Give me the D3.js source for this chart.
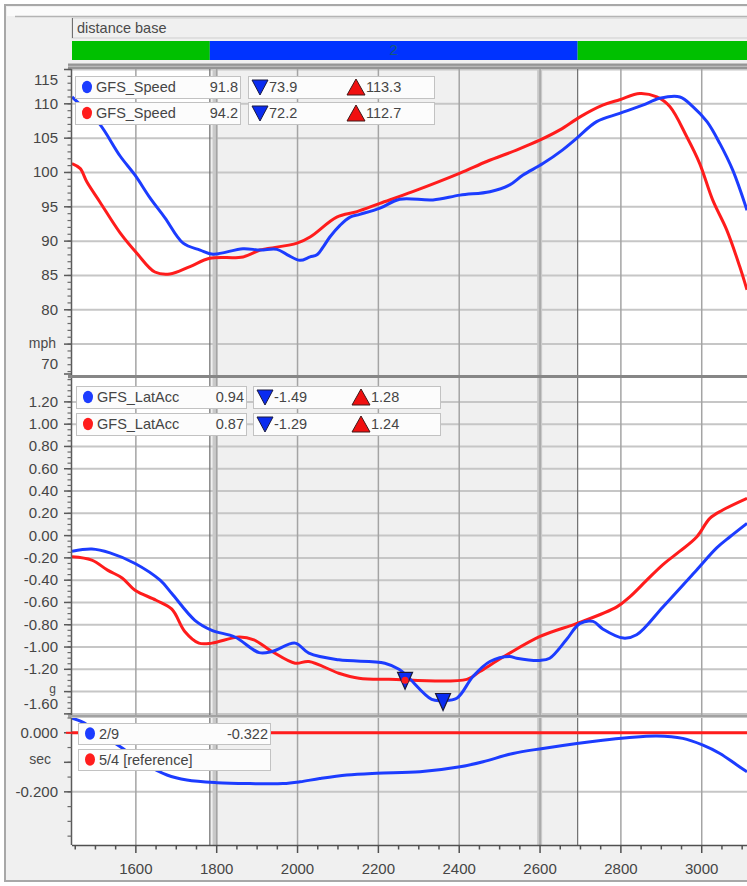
<!DOCTYPE html>
<html><head><meta charset="utf-8">
<script src="https://cdn.jsdelivr.net/npm/d3@7/dist/d3.min.js"></script>
<style>body{margin:0;background:#fff;}svg{display:block;font-family:"Liberation Sans",Arial,sans-serif;}</style>
</head><body><svg id="c" width="747" height="886"></svg>
<script>
// ---------- data ----------
const xDomain = [1442, 3112];
const xTicks = [1600, 1800, 2000, 2200, 2400, 2600, 2800, 3000];
const segNames = ["1", "2", "3"];
const segStarts = [1442, 1783, 2693];
const segEnds = [1783, 2693, 3112];
const currentSegment = "2";
const refSplits = [1796, 2599];

const speedTicks = [115, 110, 105, 100, 95, 90, 85, 80, 75, 70];
const speedUnit = "mph", speedUnitAt = 75;
const latTicks = [1.2, 1.0, 0.8, 0.6, 0.4, 0.2, 0.0, -0.2, -0.4, -0.6, -0.8, -1.0, -1.2, -1.4, -1.6];
const latUnit = "g", latUnitAt = -1.4;
const timeTicks = [0, -0.1, -0.2];
const timeGrid = [0, -0.2];
const timeUnit = "sec", timeUnitAt = -0.1;

const speedCur = [[1442,111.0],[1474,109.2],[1511,107.0],[1561,102.4],[1598,99.6],[1635,96.3],[1672,93.4],[1717,89.7],[1759,88.7],[1791,88.1],[1865,88.9],[1907,88.7],[1949,88.8],[1975,88.0],[2006,87.2],[2031,87.7],[2048,88.0],[2064,89.2],[2080,90.6],[2105,92.3],[2130,93.5],[2154,93.9],[2204,94.8],[2253,96.1],[2335,96.0],[2402,96.7],[2476,97.2],[2525,98.2],[2557,99.6],[2607,101.3],[2656,103.3],[2691,105.0],[2740,107.4],[2797,108.6],[2854,109.8],[2896,110.8],[2946,111.0],[2978,109.6],[3013,107.4],[3045,104.2],[3077,100.3],[3112,94.5]];
const speedRef = [[1442,101.3],[1462,100.6],[1479,98.6],[1511,95.7],[1561,91.2],[1603,88.2],[1647,85.5],[1684,85.2],[1734,86.3],[1783,87.5],[1865,87.7],[1907,88.7],[1924,88.9],[1999,89.7],[2031,90.6],[2097,93.5],[2147,94.3],[2204,95.5],[2285,97.2],[2402,99.9],[2468,101.6],[2543,103.3],[2599,104.7],[2649,106.2],[2699,108.1],[2755,109.8],[2797,110.6],[2847,111.5],[2889,111.0],[2921,109.6],[2963,105.2],[2995,101.3],[3027,96.0],[3062,91.6],[3094,86.3],[3112,82.9]];

const latCur = [[1442,-0.14],[1491,-0.12],[1536,-0.155],[1598,-0.25],[1660,-0.40],[1689,-0.52],[1746,-0.76],[1788,-0.85],[1845,-0.91],[1905,-1.05],[1937,-1.04],[1994,-0.965],[2028,-1.055],[2102,-1.115],[2216,-1.145],[2251,-1.2],[2271,-1.26],[2332,-1.47],[2360,-1.48],[2394,-1.46],[2434,-1.265],[2476,-1.13],[2525,-1.085],[2542,-1.10],[2600,-1.12],[2624,-1.10],[2665,-0.935],[2698,-0.79],[2731,-0.77],[2756,-0.84],[2806,-0.92],[2839,-0.89],[2904,-0.64],[2987,-0.31],[3037,-0.11],[3070,-0.01],[3112,0.11]];
const latRef = [[1442,-0.19],[1491,-0.22],[1530,-0.31],[1566,-0.38],[1598,-0.49],[1650,-0.58],[1689,-0.66],[1721,-0.86],[1756,-0.965],[1788,-0.965],[1855,-0.91],[1892,-0.935],[1937,-1.04],[1994,-1.145],[2028,-1.13],[2102,-1.235],[2152,-1.28],[2226,-1.29],[2419,-1.29],[2451,-1.22],[2518,-1.07],[2600,-0.905],[2674,-0.81],[2698,-0.78],[2790,-0.64],[2822,-0.55],[2864,-0.40],[2904,-0.26],[2946,-0.14],[2988,-0.01],[3020,0.155],[3052,0.23],[3112,0.335]];
const latMinMarks = [[2266,-1.29],[2360,-1.48]];
const latMinMarkHasDot = [true, false];

const timeCur = [[1442,0.049],[1467,0.037],[1511,-0.002],[1568,-0.053],[1622,-0.105],[1677,-0.143],[1726,-0.160],[1801,-0.169],[1882,-0.172],[1964,-0.172],[2006,-0.166],[2055,-0.155],[2122,-0.143],[2196,-0.137],[2303,-0.132],[2402,-0.115],[2459,-0.098],[2533,-0.070],[2607,-0.053],[2691,-0.036],[2755,-0.025],[2815,-0.017],[2889,-0.011],[2953,-0.019],[3003,-0.042],[3045,-0.070],[3087,-0.109],[3112,-0.132]];
const timeRef = [[1442,0],[3112,0]];

const speedLegNames = ["GFS_Speed", "GFS_Speed"];
const speedLegVals = ["91.8", "94.2"];
const speedLegMins = ["73.9", "72.2"];
const speedLegMaxs = ["113.3", "112.7"];
const latLegNames = ["GFS_LatAcc", "GFS_LatAcc"];
const latLegVals = ["0.94", "0.87"];
const latLegMins = ["-1.49", "-1.29"];
const latLegMaxs = ["1.28", "1.24"];
const timeLegNames = ["2/9", "5/4 [reference]"];
const timeLegVals = ["-0.322", ""];

// ---------- drawing ----------
const BLUE = "#1c3cff", RED = "#ff1c1c";
const svg = d3.select("#c");
const L = 72, R = 747;
const x = d3.scaleLinear().domain(xDomain).range([L, R]);

svg.append("rect").attr("width", 747).attr("height", 886).attr("fill", "#fff");
svg.append("rect").attr("x", 5).attr("y", 5).attr("width", 770).attr("height", 876)
  .attr("fill", "#f0f0f0").attr("stroke", "#a8a8a8").attr("stroke-width", 2);
svg.append("rect").attr("x", 7).attr("y", 7).attr("width", 760).attr("height", 9).attr("fill", "#fbfbfb");
svg.append("line").attr("x1", 15).attr("x2", 747).attr("y1", 16.5).attr("y2", 16.5)
  .attr("stroke", "#b4b4b4").attr("stroke-width", 1.5);

// header
svg.append("rect").attr("x", L).attr("y", 18).attr("width", 690).attr("height", 20)
  .attr("fill", "#f0f0f0").attr("stroke", "#cfcfcf");
svg.append("line").attr("x1", L + 0.5).attr("x2", L + 0.5).attr("y1", 18).attr("y2", 38).attr("stroke", "#707070");
svg.append("text").attr("x", 77).attr("y", 33).attr("font-size", 14.5).attr("fill", "#4a4a4a").text("distance base");

segNames.forEach((n, i) => {
  const x0 = x(Math.max(segStarts[i], xDomain[0])), x1 = x(Math.min(segEnds[i], xDomain[1]));
  svg.append("rect").attr("x", x0).attr("y", 41).attr("width", x1 - x0).attr("height", 19)
    .attr("fill", n === currentSegment ? "#0033ff" : "#00c000");
  if (n === currentSegment) {
    svg.append("text").attr("x", (x0 + x1) / 2).attr("y", 55).attr("text-anchor", "middle")
      .attr("font-size", 15).attr("fill", "#175a78").text(n);
  }
});
svg.append("rect").attr("x", 68).attr("y", 63.5).attr("width", 690).attr("height", 5.5).attr("fill", "#959595");
svg.append("line").attr("x1", 68).attr("x2", 747).attr("y1", 66.3).attr("y2", 66.3).attr("stroke", "#c4c4c4");

const cur = segNames.indexOf(currentSegment);
let clipId = 0;

function panel(cfg) {
  const { top, bottom, y } = cfg;
  const g = svg.append("g");
  const id = "clip" + (clipId++);
  svg.append("clipPath").attr("id", id).append("rect").attr("x", L).attr("y", top).attr("width", R - L).attr("height", bottom - top);
  const inner = g.append("g").attr("clip-path", `url(#${id})`);
  inner.append("rect").attr("x", L).attr("y", top).attr("width", R - L).attr("height", bottom - top).attr("fill", "#fff");
  inner.append("rect").attr("x", x(segStarts[cur])).attr("y", top)
    .attr("width", x(segEnds[cur]) - x(segStarts[cur])).attr("height", bottom - top).attr("fill", "#f0f0f0");
  // horizontal grid
  inner.selectAll(null).data(cfg.grid).join("line")
    .attr("x1", L).attr("x2", R).attr("y1", d => y(d)).attr("y2", d => y(d))
    .attr("stroke", "#c6c6c6").attr("stroke-width", 2);
  // reference splits
  inner.selectAll(null).data(refSplits).join("line")
    .attr("x1", d => x(d)).attr("x2", d => x(d)).attr("y1", top).attr("y2", bottom)
    .attr("stroke", "#c9c9c9").attr("stroke-width", 5);
  // vertical grid
  inner.selectAll(null).data(xTicks).join("line")
    .attr("x1", d => x(d)).attr("x2", d => x(d)).attr("y1", top).attr("y2", bottom)
    .attr("stroke", "#a4a4a4").attr("stroke-width", 1.5);
  // current splits
  inner.selectAll(null).data([segStarts[cur], segEnds[cur]]).join("line")
    .attr("x1", d => x(d)).attr("x2", d => x(d)).attr("y1", top).attr("y2", bottom)
    .attr("stroke", "#6e6e6e").attr("stroke-width", 1.2);
  const line = d3.line().x(d => x(d[0])).y(d => y(d[1])).curve(d3.curveCatmullRom.alpha(0.5));
  cfg.series.forEach(s => {
    inner.append("path").attr("d", line(s.data)).attr("fill", "none")
      .attr("stroke", s.color).attr("stroke-width", 3).attr("stroke-linejoin", "round");
  });
  if (cfg.after) cfg.after(inner);
  // y axis
  g.append("line").attr("x1", 71.5).attr("x2", 71.5).attr("y1", top).attr("y2", bottom)
    .attr("stroke", "#5a5a5a").attr("stroke-width", 1.5);
  const [d0, d1] = y.domain();
  const minors = d3.range(Math.ceil(d0 / cfg.minor - 1e-6), Math.floor(d1 / cfg.minor + 1e-6) + 1).map(k => k * cfg.minor);
  g.selectAll(null).data(minors.filter(v => y(v) >= top && y(v) <= bottom)).join("line")
    .attr("x1", 67.5).attr("x2", 71.5).attr("y1", d => y(d)).attr("y2", d => y(d))
    .attr("stroke", "#6a6a6a").attr("stroke-width", 1.2);
  g.selectAll(null).data(cfg.ticks.filter(v => y(v) >= top - 1 && y(v) <= bottom + 4)).join("line")
    .attr("x1", 64).attr("x2", 71.5).attr("y1", d => Math.min(bottom - 1, y(d))).attr("y2", d => Math.min(bottom - 1, y(d)))
    .attr("stroke", "#5a5a5a").attr("stroke-width", 1.5);
  cfg.ticks.forEach(v => {
    let ty = Math.max(top + 11, Math.min(bottom - 11, y(v)));
    if (Math.abs(v - cfg.unitAt) < 1e-9) {
      svg.append("text").attr("x", cfg.unitX).attr("y", y(v) + cfg.unitDy).attr("text-anchor", "end")
        .attr("font-size", cfg.unitSize).attr("fill", "#4a4a4a").text(cfg.unit);
      return;
    }
    svg.append("text").attr("x", 58).attr("y", ty + 5).attr("text-anchor", "end")
      .attr("font-size", 15).attr("fill", "#454545").text(cfg.fmt(v));
  });
  return g;
}

function legendRows(rows, boxA, boxB) {
  rows.forEach((r, i) => {
    const ry = boxA.y + i * boxA.step, cy = ry + boxA.h / 2;
    svg.append("rect").attr("x", boxA.x + 0.5).attr("y", ry + 0.5).attr("width", boxA.w).attr("height", boxA.h)
      .attr("fill", "#fcfcfc").attr("stroke", "#c2c2c2");
    svg.append("ellipse").attr("cx", boxA.x + 12).attr("cy", cy).attr("rx", 5).attr("ry", 6.2).attr("fill", r.color);
    svg.append("text").attr("x", boxA.x + 21).attr("y", cy + 5).attr("font-size", 14.5).attr("fill", "#454545").text(r.name);
    if (r.val) svg.append("text").attr("x", boxA.x + boxA.w - 2).attr("y", cy + 5).attr("text-anchor", "end")
      .attr("font-size", 14.5).attr("fill", "#454545").text(r.val);
    if (boxB) {
      svg.append("rect").attr("x", boxB.x + 0.5).attr("y", ry + 0.5).attr("width", boxB.w).attr("height", boxA.h)
        .attr("fill", "#fcfcfc").attr("stroke", "#c2c2c2");
      const tx = boxB.x + 12;
      svg.append("path").attr("d", `M${tx - 8},${cy - 7}L${tx + 8},${cy - 7}L${tx},${cy + 8}Z`)
        .attr("fill", "#0a2cf0").attr("stroke", "#1a1a40").attr("stroke-width", 1);
      svg.append("text").attr("x", tx + 9).attr("y", cy + 5).attr("font-size", 14.5).attr("fill", "#454545").text(r.min);
      const ux = boxB.x + 108;
      svg.append("path").attr("d", `M${ux - 9},${cy + 8}L${ux + 9},${cy + 8}L${ux},${cy - 8}Z`)
        .attr("fill", "#f01010").attr("stroke", "#401a1a").attr("stroke-width", 1);
      svg.append("text").attr("x", ux + 10).attr("y", cy + 5).attr("font-size", 14.5).attr("fill", "#454545").text(r.max);
    }
  });
}

// Panel 1: speed
const ySpeed = d3.scaleLinear().domain([70.5, 115]).range([375, 69.5]);
panel({ top: 69, bottom: 375, y: ySpeed, grid: speedTicks, ticks: speedTicks, minor: 1,
  unit: speedUnit, unitAt: speedUnitAt, unitX: 56, unitDy: 4, unitSize: 14, fmt: v => String(v),
  series: [{ data: speedRef, color: RED }, { data: speedCur, color: BLUE }] });
svg.append("rect").attr("x", 68).attr("y", 375).attr("width", 690).attr("height", 3.2).attr("fill", "#868686");

// Panel 2: lateral acceleration
const yLat = d3.scaleLinear().domain([-1.61, 1.4]).range([715, 379.6]);
panel({ top: 378, bottom: 715, y: yLat, grid: latTicks, ticks: latTicks, minor: 0.05,
  unit: latUnit, unitAt: latUnitAt, unitX: 56, unitDy: 1, unitSize: 12, fmt: v => d3.format(".2f")(v).replace("−", "-"),
  series: [{ data: latRef, color: RED }, { data: latCur, color: BLUE }],
  after: g => {
    latMinMarks.forEach((m, i) => {
      const px = x(m[0]), py = yLat(m[1]);
      g.append("path").attr("d", `M${px - 7.5},${py - 7}L${px + 7.5},${py - 7}L${px},${py + 10}Z`)
        .attr("fill", "#0a2cf0").attr("stroke", "#1a1a3a").attr("stroke-width", 1.2);
      if (latMinMarkHasDot[i]) g.append("circle").attr("cx", px).attr("cy", py + 1).attr("r", 3.5).attr("fill", RED);
    });
  } });
svg.append("rect").attr("x", 68).attr("y", 715).attr("width", 690).attr("height", 2.5).attr("fill", "#a2a2a2");

// Panel 3: delta time
const yTime = d3.scaleLinear().domain([-0.38, 0.05]).range([845, 718]);
panel({ top: 718, bottom: 845, y: yTime, grid: timeGrid, ticks: timeTicks, minor: 0.05,
  unit: timeUnit, unitAt: timeUnitAt, unitX: 51, unitDy: 2, unitSize: 14, fmt: v => d3.format(".3f")(v).replace("−", "-"),
  series: [{ data: timeRef, color: RED }, { data: timeCur, color: BLUE }] });
svg.append("line").attr("x1", 66).attr("x2", 72).attr("y1", yTime(0)).attr("y2", yTime(0)).attr("stroke", RED).attr("stroke-width", 2);

// legends
legendRows(speedLegNames.map((n, i) => ({ name: n, val: speedLegVals[i], min: speedLegMins[i], max: speedLegMaxs[i], color: i ? RED : BLUE })),
  { x: 75, y: 76, w: 165, h: 22, step: 26 }, { x: 248, w: 186 });
legendRows(latLegNames.map((n, i) => ({ name: n, val: latLegVals[i], min: latLegMins[i], max: latLegMaxs[i], color: i ? RED : BLUE })),
  { x: 76, y: 386, w: 170, h: 22, step: 27 }, { x: 253, w: 187 });
legendRows(timeLegNames.map((n, i) => ({ name: n, val: timeLegVals[i], color: i ? RED : BLUE })),
  { x: 78, y: 723, w: 192, h: 21, step: 26 }, null);

// x axis
const ax = svg.append("g");
ax.append("line").attr("x1", L).attr("x2", R).attr("y1", 845.5).attr("y2", 845.5).attr("stroke", "#505050").attr("stroke-width", 1.5);
const xMinor = d3.range(Math.ceil(xDomain[0] / 50) * 50, xDomain[1] + 1, 50);
ax.selectAll(null).data(xMinor).join("line")
  .attr("x1", d => x(d)).attr("x2", d => x(d)).attr("y1", 845).attr("y2", d => d % 200 === 0 ? 853 : 849.5)
  .attr("stroke", "#505050").attr("stroke-width", 1.5);
ax.selectAll(null).data(xTicks).join("text")
  .attr("x", d => x(d)).attr("y", 874).attr("text-anchor", "middle").attr("font-size", 15).attr("fill", "#454545").text(d => d);
</script></body></html>
